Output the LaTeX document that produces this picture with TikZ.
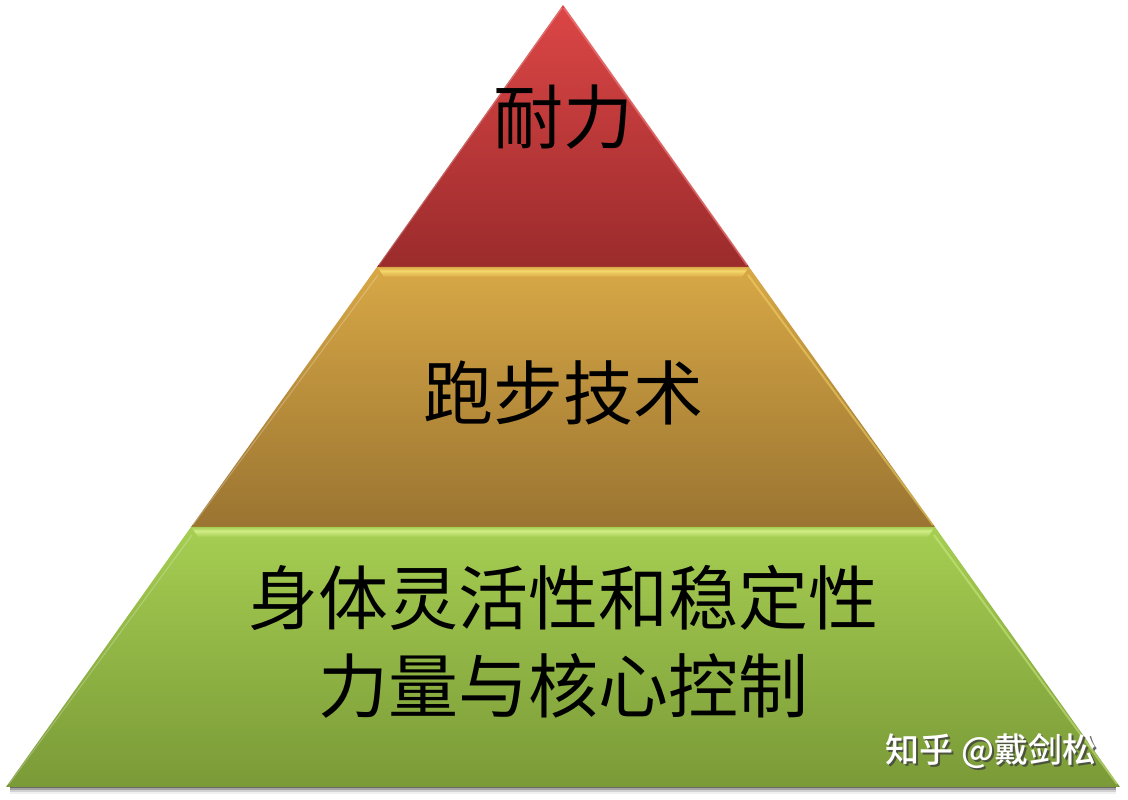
\documentclass[tikz,border=0pt]{standalone}
\usepackage{fontspec}
\newfontfamily\cjk{Noto Sans CJK SC}
\newfontfamily\cjkm{Noto Sans CJK SC Medium}
\usetikzlibrary{calc}
\definecolor{redtop}{HTML}{DC4646}
\definecolor{redbot}{HTML}{9B2B2C}
\definecolor{goldtop}{HTML}{D8A846}
\definecolor{goldbot}{HTML}{9A7431}
\definecolor{greentop}{HTML}{A6CE52}
\definecolor{greenbot}{HTML}{7A9A37}
\definecolor{goldhi}{HTML}{F6DA6C}
\definecolor{greenhi}{HTML}{D2EE88}
\definecolor{redhi}{HTML}{F08080}
\tikzset{
  label/.style={font=\cjk\fontsize{70}{86}\selectfont, text=black, align=center, inner sep=0pt},
  wmark/.style={font=\cjkm\fontsize{34}{40}\selectfont, inner sep=0pt},
}
\begin{document}
\begin{tikzpicture}[x=1pt,y=1pt]
\useasboundingbox (0,0) rectangle (1128,800);
\fill[white] (0,0) rectangle (1128,800);
% corner points
\coordinate (A) at (563,795);
\coordinate (L1) at (377,533);
\coordinate (R1) at (749,533);
\coordinate (L2) at (191,273);
\coordinate (R2) at (935,273);
\coordinate (L3) at (6,13);
\coordinate (R3) at (1120,13);
% shadow under base
\foreach \d/\o in {1/0.35,3/0.22,5/0.12,7/0.06}{
  \fill[black,opacity=\o] ($(L3)+(4,-\d)$) -- ($(R3)+(-4,-\d)$) -- ($(R3)+(-4,0)$) -- ($(L3)+(4,0)$) -- cycle;
}
% layers
\shade[top color=greentop, bottom color=greenbot] (L2) -- (R2) -- (R3) -- (L3) -- cycle;
\shade[top color=goldtop, bottom color=goldbot] (L1) -- (R1) -- (R2) -- (L2) -- cycle;
\shade[top color=redtop, bottom color=redbot] (A) -- (R1) -- (L1) -- cycle;
% bevel highlights along top edges
\shade[top color=goldtop, bottom color=goldhi, opacity=0.95] (L1) -- (R1) -- ($(R1)+(-3,-4)$) -- ($(L1)+(3,-4)$) -- cycle;
\shade[top color=goldhi, bottom color=goldtop, opacity=0.95] ($(L1)+(3,-4)$) -- ($(R1)+(-3,-4)$) -- ($(R1)+(-7,-10)$) -- ($(L1)+(7,-10)$) -- cycle;
\shade[top color=greentop, bottom color=greenhi, opacity=0.95] (L2) -- (R2) -- ($(R2)+(-3,-4)$) -- ($(L2)+(3,-4)$) -- cycle;
\shade[top color=greenhi, bottom color=greentop, opacity=0.95] ($(L2)+(3,-4)$) -- ($(R2)+(-3,-4)$) -- ($(R2)+(-7,-10)$) -- ($(L2)+(7,-10)$) -- cycle;
% side highlights
\draw[redhi, line width=2pt, opacity=0.6] ($(A)+(1,-3)$) -- ($(R1)+(-2,2)$);
\draw[goldhi, line width=2pt, opacity=0.5] ($(R1)+(-1,-8)$) -- ($(R2)+(-2,2)$);
\draw[greenhi, line width=2pt, opacity=0.5] ($(R2)+(-1,-8)$) -- ($(R3)+(-3,3)$);
\draw[white, line width=1pt, opacity=0.25] ($(A)+(-1,-3)$) -- ($(L1)+(2,2)$);
\draw[white, line width=1pt, opacity=0.25] ($(L1)+(1,-8)$) -- ($(L2)+(2,2)$);
\draw[white, line width=1pt, opacity=0.25] ($(L2)+(1,-8)$) -- ($(L3)+(3,3)$);
% labels
\node[label] (t1) at (563,683) {耐力};
\node[label] (t2) at (563,407) {跑步技术};
\node[label] (t3) at (563,202) {身体灵活性和稳定性};
\node[label] (t4) at (563,114) {力量与核心控制};
% watermark
\node[wmark, text=black!75, opacity=0.8] (ws) at (993,47) {知乎 @戴剑松};
\node[wmark, text=white] (w) at (991,49) {知乎 @戴剑松};
\end{tikzpicture}
\end{document}
